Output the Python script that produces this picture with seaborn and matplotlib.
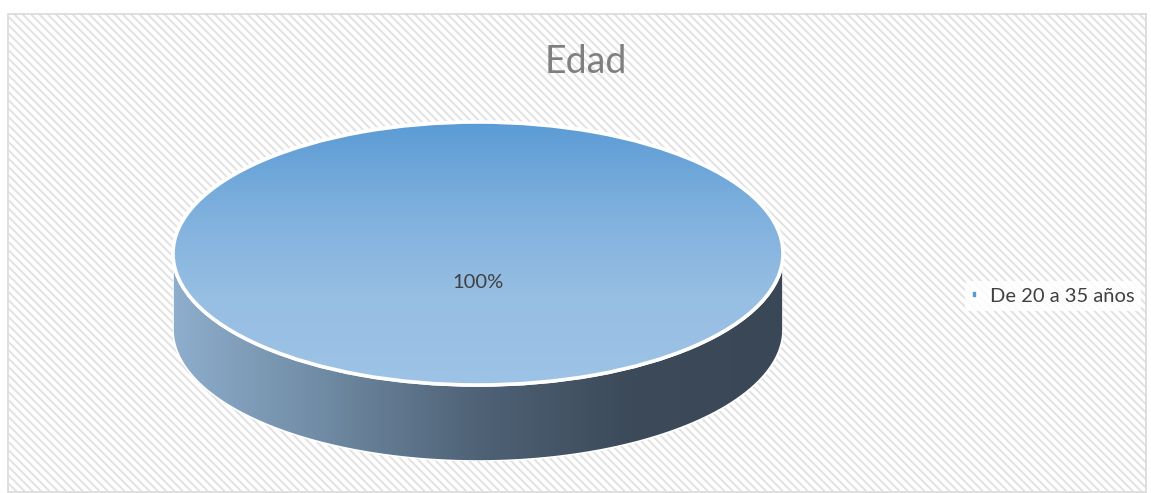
import numpy as np
import matplotlib
matplotlib.use("Agg")
import matplotlib.pyplot as plt
import seaborn as sns
from matplotlib.patches import Rectangle, Polygon, PathPatch
from matplotlib.colors import LinearSegmentedColormap

sns.set_theme(style="white")
plt.rcParams['font.family'] = ['Lato', 'DejaVu Sans']
plt.rcParams['hatch.linewidth'] = 1.4

# ---- data ----
title = "Edad"
categories = ["De 20 a 35 años"]
values = [100]
colors = ["#5b9bd5"]

W, H = 1151, 493
fig = plt.figure(figsize=(W / 100, H / 100), dpi=100)

# background axes in pixel coordinates
bg = fig.add_axes([0, 0, 1, 1])
bg.set_xlim(0, W)
bg.set_ylim(H, 0)
bg.axis('off')
bg.add_patch(Rectangle((9, 14), 1137, 477, facecolor='white', edgecolor='#e2e2e2', lw=0,
                       hatch='\\' * 4, zorder=0))
bg.add_patch(Rectangle((8.5, 13.5), 1138, 478, facecolor='none', edgecolor='#d9d9d9',
                       lw=1.2, zorder=1))

# pie axes: top ellipse bounding box + side depth
cx, cy, rx, ry, depth = 478, 253.5, 305, 131.5, 76
left_px, right_px = cx - rx, cx + rx
top_px, bot_px = cy - ry, cy + ry + depth
ax = fig.add_axes([left_px / W, 1 - bot_px / H, (right_px - left_px) / W, (bot_px - top_px) / H])
wedges, texts, autotexts = ax.pie(values, colors=colors, startangle=90, autopct='%1.0f%%',
                                  pctdistance=0.22, radius=1, frame=False,
                                  wedgeprops=dict(edgecolor='white', linewidth=2.6),
                                  textprops=dict(color='#404040', fontsize=14.5))
ax.set_aspect('auto')
d = depth / ry
ax.axis('off')

# side band of the 3D pie
t = np.linspace(np.pi, 2 * np.pi, 300)
xs = np.cos(t)
ys = np.sin(t)
band = np.concatenate([np.column_stack([xs, ys]), np.column_stack([xs[::-1], ys[::-1] - d])])
side = Polygon(band, closed=True, facecolor='none', edgecolor='white', lw=1.2, zorder=1)
ax.add_patch(side)
side_cmap = LinearSegmentedColormap.from_list('side', ['#8eaecd', '#6f8aa3', '#4f6276', '#3c4a5a', '#3a4756'])
grad = np.linspace(0, 1, 256).reshape(1, -1)
im = ax.imshow(grad, extent=(-1, 1, -1 - d, 0), cmap=side_cmap, aspect='auto', zorder=0.9,
               interpolation='bicubic')
im.set_clip_path(side)

# top gradient clipped to the wedge
for w in wedges:
    w.set_zorder(2)
top_cmap = LinearSegmentedColormap.from_list('top', ['#5b9bd5', '#7eb0dd', '#97bee3', '#9dc3e6'])
gv = np.linspace(0, 1, 256).reshape(-1, 1)
im2 = ax.imshow(gv, extent=(-1, 1, -1, 1), cmap=top_cmap, aspect='auto', zorder=2.1,
                origin='upper', interpolation='bicubic')
im2.set_clip_path(wedges[0])
# white outline on top
for w in wedges:
    ol = PathPatch(w.get_path(), facecolor='none', edgecolor='white',
                   lw=2.6, zorder=2.2, transform=w.get_transform())
    ax.add_patch(ol)
for at in autotexts:
    at.set_zorder(3)
ax.set_xlim(-1, 1)
ax.set_ylim(-1 - d, 1)

# title
bg.text(586, 62, title, ha='center', va='center', fontsize=27, color='#7f7f7f')

# legend
leg = fig.legend(wedges, categories, loc='center left', bbox_to_anchor=(955 / W, 1 - 296 / H),
                 frameon=True, fontsize=14.5, handlelength=0.35, handleheight=0.35,
                 handletextpad=0.6, borderpad=0.3, labelcolor='#404040')
leg.get_frame().set_facecolor('white')
leg.get_frame().set_edgecolor('none')
leg.get_frame().set_alpha(0.85)

fig.savefig('out.png', dpi=100)
